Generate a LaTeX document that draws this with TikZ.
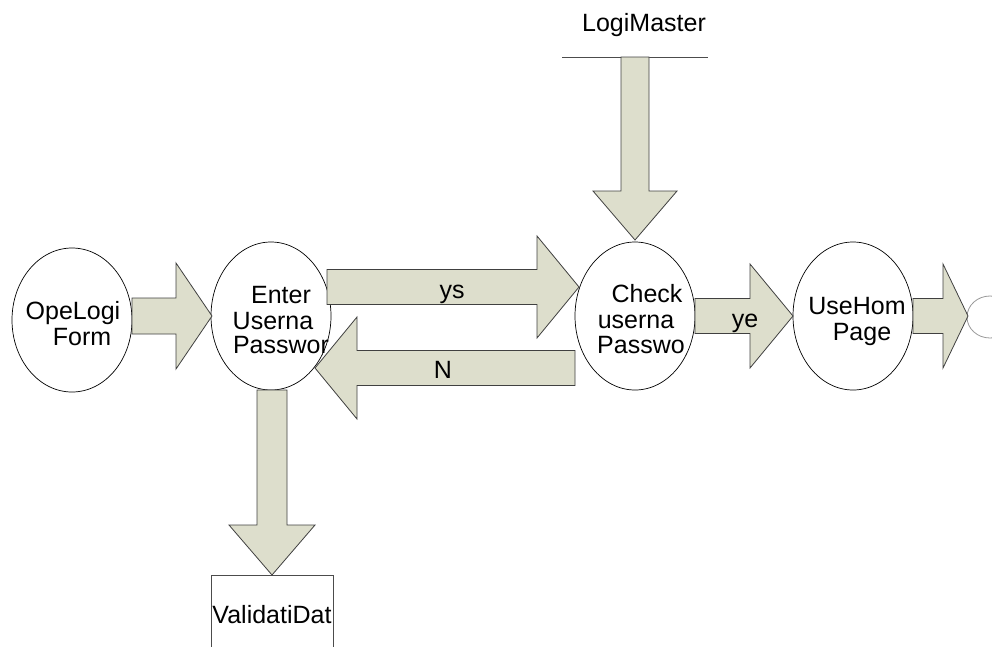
\documentclass[tikz,border=0pt]{standalone}
\usepackage{fontspec}
\setmainfont{Liberation Sans}
\begin{document}
\begin{tikzpicture}[x=1pt,y=-1pt,
  lbl/.style={anchor=base,inner sep=0pt,font=\fontsize{25}{25}\selectfont},
  fat/.style={draw=black!75,line width=0.8pt,fill=fatfill,line join=miter}]
\definecolor{fatfill}{RGB}{221,222,204}
\useasboundingbox (0,0) rectangle (992,646);
\clip (0,0) rectangle (992,646);
% fat horizontal arrow: tail x, head base x, tip x, centre y, shaft half, head half
\newcommand{\fatH}[6]{\filldraw[fat] (#1,#4-#5) -- (#2,#4-#5) -- (#2,#4-#6) -- (#3,#4) -- (#2,#4+#6) -- (#2,#4+#5) -- (#1,#4+#5) -- cycle;}
\newcommand{\fatV}[6]{\filldraw[fat] (#4-#5,#1) -- (#4-#5,#2) -- (#4-#6,#2) -- (#4,#3) -- (#4+#6,#2) -- (#4+#5,#2) -- (#4+#5,#1) -- cycle;}
% bubbles
\draw[line width=0.7pt] (72,320) ellipse (60 and 72);
\node[inner sep=0pt] (open) at (72,320) {};
\draw[line width=0.7pt] (271,316) ellipse (60 and 74);
\node[inner sep=0pt] (enter) at (271,316) {};
\draw[line width=0.7pt] (635,316) ellipse (60 and 74);
\node[inner sep=0pt] (check) at (635,316) {};
\draw[line width=0.7pt] (853,316) ellipse (60 and 74);
\node[inner sep=0pt] (home) at (853,316) {};
\draw[black!40,line width=0.8pt] (990,317) ellipse (23 and 21);
% store / entity
\draw[black!70,line width=0.7pt] (562,57) -- (708,57);
\draw[black!70,line width=0.7pt] (211,660) -- (211,575) -- (333,575) -- (333,660);
% fat arrows
\fatH{132}{176}{212}{316}{18}{53}
\fatH{327}{537}{579}{287}{17.5}{51}
\fatH{575}{357}{315}{368}{17.5}{51}
\fatH{695}{750}{793}{316}{17.5}{52}
\fatH{913}{943}{968}{316}{17.5}{52}
\fatV{57}{191}{240}{635}{14}{42}
\fatV{390}{525}{575}{272}{15}{43}
% texts
\node[lbl] (t1a) at (73,319) {OpeLogi};
\node[lbl] (t1b) at (82,345) {Form};
\node[lbl] (t2a) at (281,303) {Enter};
\node[lbl] (t2b) at (273,329) {Userna};
\node[lbl] (t2c) at (281,353) {Passwor};
\node[lbl] (t3a) at (647,302) {Check};
\node[lbl] (t3b) at (636,328) {userna};
\node[lbl] (t3c) at (641,353) {Passwo};
\node[lbl] (t4a) at (857,314) {UseHom};
\node[lbl] (t4b) at (862,340) {Page};
\node[lbl] (ys) at (452,298) {ys};
\node[lbl] (no) at (443,378) {N};
\node[lbl] (ye) at (745,327) {ye};
\node[lbl] (lm) at (644,31) {LogiMaster};
\node[lbl] (vd) at (272,623) {ValidatiDat};
\end{tikzpicture}
\end{document}
